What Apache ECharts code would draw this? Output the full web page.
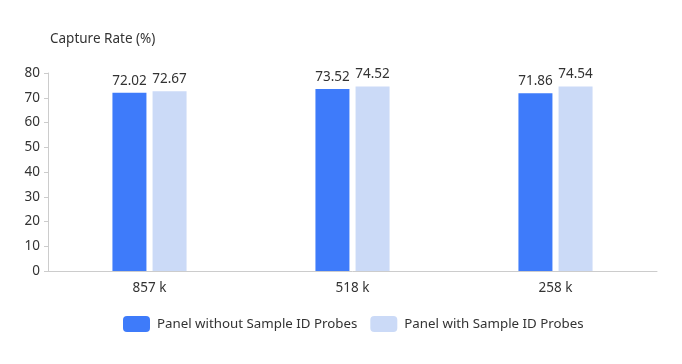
<!DOCTYPE html>
<html><head><meta charset="utf-8">
<script src="https://cdn.jsdelivr.net/npm/echarts@6/dist/echarts.min.js"></script>
<style>html,body{margin:0;padding:0;background:#fff}#c{width:682px;height:364px}</style>
</head><body><div id="c"></div>
<script>
const categories = ['857 k', '518 k', '258 k'];
const seriesNames = ['Panel without Sample ID Probes', 'Panel with Sample ID Probes'];
const withoutProbes = [72.02, 73.52, 71.86];
const withProbes = [72.67, 74.52, 74.54];
const yAxisName = 'Capture Rate (%)';

const font = '"Noto Sans", sans-serif';
const chart = echarts.init(document.getElementById('c'));
chart.setOption({
  animation: false,
  textStyle: { fontFamily: font },
  grid: { left: 48, right: 25, top: 73, bottom: 93, containLabel: false },
  legend: {
    bottom: 27, left: 118,
    itemWidth: 27, itemHeight: 16, itemGap: 13,
    icon: 'roundRect',
    textStyle: { fontSize: 13.3, color: '#333', fontFamily: font, padding: [0, 0, 0, 2] },
    data: seriesNames
  },
  xAxis: {
    type: 'category', data: categories,
    axisLine: { lineStyle: { color: '#ccc' } },
    axisTick: { show: false },
    axisLabel: { fontSize: 13.5, color: '#333', margin: 10, fontFamily: font }
  },
  yAxis: {
    type: 'value', min: 0, max: 80, interval: 10,
    name: yAxisName,
    nameGap: 27,
    nameTextStyle: { fontSize: 13.5, color: '#333', align: 'left', fontFamily: font, padding: [0, 0, 0, 2] },
    axisLine: { show: true, lineStyle: { color: '#ccc' } },
    axisTick: { show: true, length: 4, lineStyle: { color: '#ccc' } },
    splitLine: { show: false },
    axisLabel: { fontSize: 13.5, color: '#333', margin: 8, fontFamily: font }
  },
  series: [
    {
      name: seriesNames[0], type: 'bar', data: withoutProbes,
      barWidth: 34, barGap: '18%',
      itemStyle: { color: '#3e7bfa' },
      label: { show: true, position: 'top', fontSize: 13.5, color: '#333', distance: 5, fontFamily: font }
    },
    {
      name: seriesNames[1], type: 'bar', data: withProbes,
      barWidth: 34,
      itemStyle: { color: '#cbdaf7' },
      label: { show: true, position: 'top', fontSize: 13.5, color: '#333', distance: 5, fontFamily: font }
    }
  ]
});
</script></body></html>
